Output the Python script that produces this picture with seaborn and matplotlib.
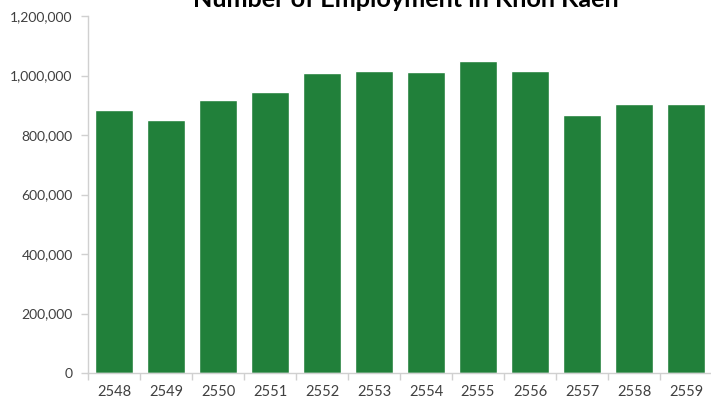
import matplotlib
matplotlib.use("Agg")
import matplotlib.pyplot as plt
import seaborn as sns
import pandas as pd
from matplotlib.ticker import FuncFormatter

years = ["2548", "2549", "2550", "2551", "2552", "2553",
         "2554", "2555", "2556", "2557", "2558", "2559"]
employment = [884000, 851000, 917000, 944000, 1008000, 1016000,
              1012000, 1049000, 1016000, 868000, 905000, 903000]

df = pd.DataFrame({"year": years, "employment": employment})

sns.set_theme(style="white")
plt.rcParams["font.family"] = ["Lato", "DejaVu Sans"]

fig = plt.figure(figsize=(7.11, 4.07), dpi=100)
ax = fig.add_axes([88 / 711, 34 / 407, 624 / 711, 357 / 407])

sns.barplot(data=df, x="year", y="employment", color="#21803A",
            saturation=1, width=0.73, ax=ax)

ax.set_ylim(0, 1200000)
ax.set_xlim(-0.5, len(years) - 0.5)
ax.set_yticks(range(0, 1200001, 200000))
ax.yaxis.set_major_formatter(FuncFormatter(lambda v, p: f"{int(v):,}"))
ax.set_xlabel("")
ax.set_ylabel("")

for side in ["top", "right"]:
    ax.spines[side].set_visible(False)
for side in ["left", "bottom"]:
    ax.spines[side].set_color("#D0D0D0")
    ax.spines[side].set_linewidth(1)

# category boundary ticks on the x axis
ax.set_xticks([i - 0.5 for i in range(len(years) + 1)], minor=True)
ax.tick_params(axis="x", which="minor", length=5, color="#D0D0D0", width=1,
               direction="out", bottom=True)
ax.tick_params(axis="x", which="major", length=0, pad=9,
               labelsize=10.5, labelcolor="#404040")
ax.tick_params(axis="y", which="major", length=5, color="#D0D0D0", width=1,
               direction="out", left=True, pad=6, labelsize=10,
               labelcolor="#404040")

fig.text(406 / 711, 1 - 7 / 407, "Number of Employment in Khon Kaen",
         ha="center", va="baseline", fontsize=18.2, fontweight="bold",
         color="black")

fig.savefig("out.png", dpi=100)
